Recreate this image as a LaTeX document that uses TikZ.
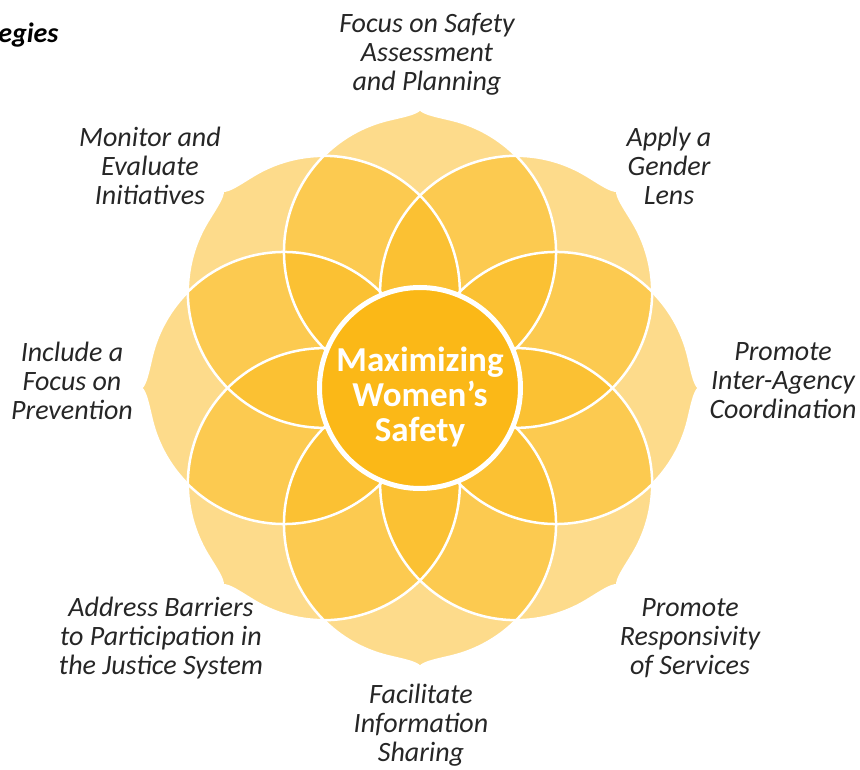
\documentclass[tikz,border=0pt]{standalone}
\usepackage{fontspec}
\setmainfont{Carlito}
\definecolor{petal}{HTML}{FBB817}
% one circle through the centre, with a small tip on its far side
\newcommand{\petaloutline}{(267.96,32.9) arc[start angle=14,end angle=346,radius=136]
  .. controls (271.8,-17.4) and (274,-4) .. (279,0)
  .. controls (274,4) and (271.8,17.4) .. (267.96,32.9) -- cycle}

\begin{document}
\begin{tikzpicture}[x=1pt,y=1pt,
    lbl/.style={align=center,font=\fontsize{28}{29}\selectfont\itshape,text=black!85}]
  \useasboundingbox (0,0) rectangle (860,769);
  \coordinate (o) at (420,381);
  \foreach \a in {0,45,...,315}
    \fill[petal,fill opacity=0.5,shift={(o)},rotate=\a] \petaloutline;
  \foreach \a in {0,45,...,315}
    \draw[white,line width=2.5pt,shift={(o)},rotate=\a] \petaloutline;
  \node[circle,fill=petal,draw=white,line width=5pt,minimum size=201pt] (hub) at (o) {};
  \node[text=white,font=\fontsize{35}{35}\selectfont\bfseries,align=center] (title) at (420,372) {Maximizing\\Women's\\Safety};
  \node[font=\fontsize{28}{30}\selectfont\bfseries\itshape,anchor=base east] (cut) at (62,726) {egies};
  % the eight strategies
  \node[lbl] (plan) at (427,715) {Focus on Safety\\Assessment\\and Planning};
  \node[lbl] (gender) at (669,603) {Apply a\\Gender\\Lens};
  \node[lbl] (coord) at (783,388) {Promote\\Inter-Agency\\Coordination};
  \node[lbl] (serv) at (690,131) {Promote\\Responsivity\\of Services};
  \node[lbl] (info) at (421,44) {Facilitate\\Information\\Sharing};
  \node[lbl] (just) at (161,131) {Address Barriers\\to Participation in\\the Justice System};
  \node[lbl] (prev) at (72,388) {Include a\\Focus on\\Prevention};
  \node[lbl] (eval) at (150,603) {Monitor and\\Evaluate\\Initiatives};
\end{tikzpicture}
\end{document}
